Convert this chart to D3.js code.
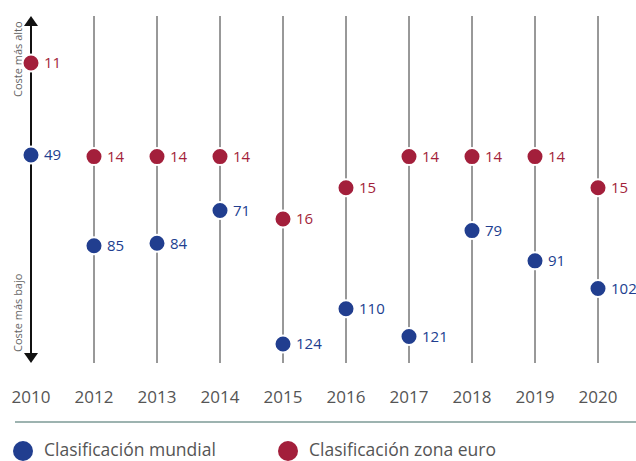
<!DOCTYPE html>
<meta charset="utf-8">
<style>
body { margin: 0; background: #fff; }
text { font-family: "Open Sans", sans-serif; }
</style>
<body>
<script src="https://cdn.jsdelivr.net/npm/d3@7/dist/d3.min.js"></script>
<script>

var years = ["2010", "2012", "2013", "2014", "2015", "2016", "2017", "2018", "2019", "2020"];
var mundial = [49, 85, 84, 71, 124, 110, 121, 79, 91, 102];
var zonaEuro = [11, 14, 14, 14, 16, 15, 14, 14, 14, 15];
var legendLabels = ["Clasificación mundial", "Clasificación zona euro"];

var width = 636, height = 461;
var blue = "#213e8f", red = "#a31f3b";

var svg = d3.select("body").append("svg")
    .attr("width", width)
    .attr("height", height);

var x = d3.scalePoint()
    .domain(years)
    .range([31, 598]);

// the two rankings sit on their own scales
var yWorld = d3.scaleLinear().domain([49, 124]).range([155, 344]);
var yEuro = d3.scaleLinear().domain([11, 16]).range([63, 219]);

var yTop = 16, yBottom = 363;

// vertical guides
svg.selectAll(".guide")
    .data(years.slice(1))
  .enter().append("line")
    .attr("class", "guide")
    .attr("x1", d => x(d)).attr("x2", d => x(d))
    .attr("y1", yTop).attr("y2", yBottom)
    .attr("stroke", "#333")
    .attr("stroke-width", 1);

// main axis with arrows on 2010
var x0 = x(years[0]);
svg.append("line")
    .attr("x1", x0).attr("x2", x0)
    .attr("y1", yTop + 8).attr("y2", yBottom - 8)
    .attr("stroke", "#111")
    .attr("stroke-width", 2);
svg.append("path")
    .attr("d", "M" + x0 + "," + yTop + "L" + (x0 + 7) + "," + (yTop + 10) + "L" + (x0 - 7) + "," + (yTop + 10) + "Z")
    .attr("fill", "#111");
svg.append("path")
    .attr("d", "M" + x0 + "," + yBottom + "L" + (x0 + 7) + "," + (yBottom - 10) + "L" + (x0 - 7) + "," + (yBottom - 10) + "Z")
    .attr("fill", "#111");

svg.append("text")
    .attr("transform", "translate(22,97) rotate(-90)")
    .attr("font-size", 11)
    .attr("fill", "#666")
    .text("Coste más alto");
svg.append("text")
    .attr("transform", "translate(22,352) rotate(-90)")
    .attr("font-size", 11)
    .attr("fill", "#666")
    .text("Coste más bajo");

function series(values, y, color) {
  var g = svg.append("g");
  g.selectAll("circle")
      .data(values)
    .enter().append("circle")
      .attr("cx", (d, i) => x(years[i]))
      .attr("cy", d => y(d))
      .attr("r", 8.5)
      .attr("fill", color)
      .attr("stroke", "#fff")
      .attr("stroke-width", 2);
  g.selectAll("text")
      .data(values)
    .enter().append("text")
      .attr("x", (d, i) => x(years[i]) + 13)
      .attr("y", d => y(d))
      .attr("dy", "0.36em")
      .attr("font-size", 15)
      .attr("fill", color)
      .text(d => d);
}
series(mundial, yWorld, blue);
series(zonaEuro, yEuro, red);

// year labels
svg.selectAll(".year")
    .data(years)
  .enter().append("text")
    .attr("class", "year")
    .attr("x", d => x(d))
    .attr("y", 403)
    .attr("text-anchor", "middle")
    .attr("font-size", 17)
    .attr("fill", "#555")
    .text(d => d);

svg.append("line")
    .attr("x1", 15).attr("x2", width)
    .attr("y1", 422).attr("y2", 422)
    .attr("stroke", "#9db3b0")
    .attr("stroke-width", 2);

// legend
var legend = svg.selectAll(".legend")
    .data(legendLabels)
  .enter().append("g")
    .attr("transform", (d, i) => "translate(" + (i ? 288 : 23) + ",451)");
legend.append("circle")
    .attr("r", 10)
    .attr("fill", (d, i) => i ? red : blue);
legend.append("text")
    .attr("x", 21)
    .attr("y", 5)
    .attr("font-size", 17.5)
    .attr("fill", "#555")
    .text(d => d);

</script>
